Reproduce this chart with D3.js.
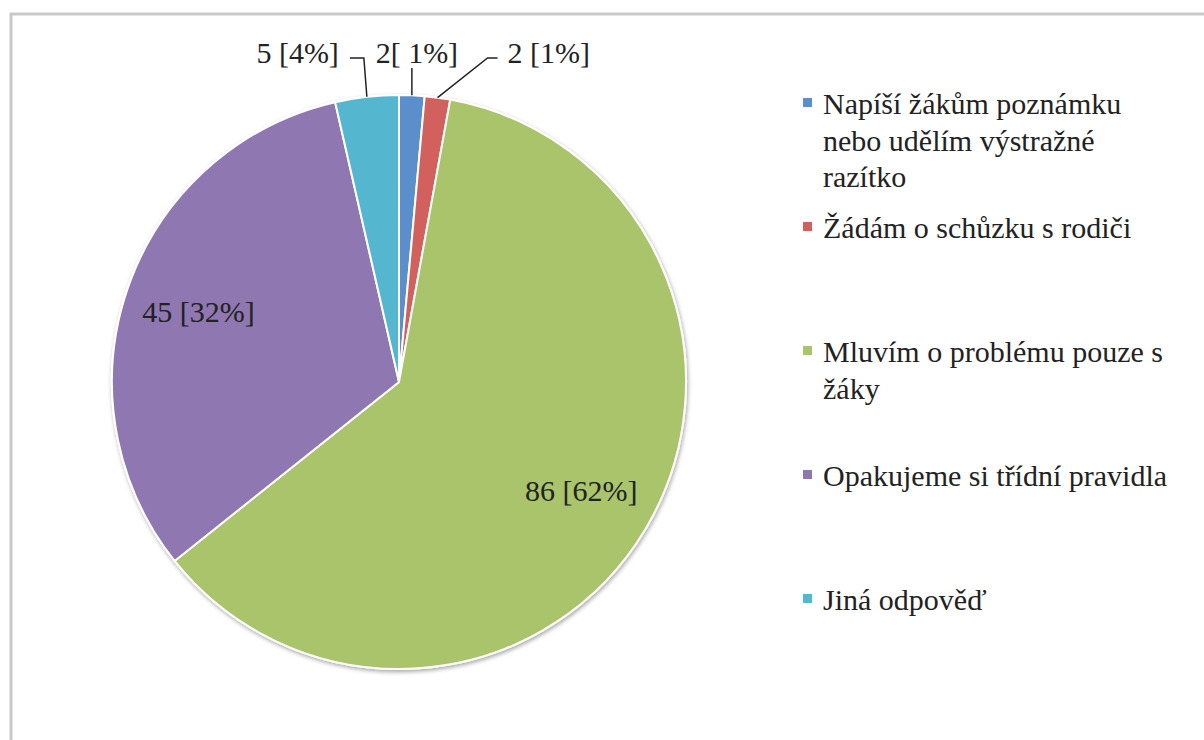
<!DOCTYPE html>
<html>
<head>
<meta charset="utf-8">
<script src="https://cdn.jsdelivr.net/npm/d3@7"></script>
<style>
body { margin: 0; background: #fff; }
</style>
</head>
<body>
<svg id="svg1" width="1204" height="740"></svg>
<script>
var categories = [
    "Napíší žákům poznámku nebo udělím výstražné razítko",
    "Žádám o schůzku s rodiči",
    "Mluvím o problému pouze s žáky",
    "Opakujeme si třídní pravidla",
    "Jiná odpověď"
];
var values = [2, 2, 86, 45, 5];
var valueLabels = ["2[ 1%]", "2 [1%]", "86 [62%]", "45 [32%]", "5 [4%]"];

var svg = d3.select('#svg1')
    .attr('font-family', "'Liberation Serif', Tinos, 'Times New Roman', Times, 'Noto Serif', 'DejaVu Serif', FreeSerif, serif");

var cx = 399, cy = 382, radius = 287;
var fontSize = '30px', textColor = '#222';

var color = d3.scaleOrdinal()
    .domain(categories)
    .range(["#5a8fcb", "#d2615c", "#a9c46b", "#8f77b1", "#55b7cf"]);

// frame around the chart area (clipped by the window on the right / bottom)
svg.append('rect')
    .attr('x', 11).attr('y', 14)
    .attr('width', 1220).attr('height', 760)
    .attr('fill', 'none')
    .attr('stroke', '#c9c9c9')
    .attr('stroke-width', 3);

var defs = svg.append('defs');
var shadow = defs.append('filter').attr('id', 'shadow')
    .attr('x', '-10%').attr('y', '-10%').attr('width', '120%').attr('height', '120%');
shadow.append('feDropShadow')
    .attr('dx', 1).attr('dy', 2)
    .attr('stdDeviation', 2)
    .attr('flood-color', '#000')
    .attr('flood-opacity', 0.35);

var pie = d3.pie().sort(null).value(function(d){ return d; });
var arcs = pie(values);

var arc = d3.arc().innerRadius(0).outerRadius(radius);
var labelArc = d3.arc().innerRadius(radius * 0.74).outerRadius(radius * 0.74);

var g = svg.append('g')
    .attr('transform', 'translate(' + cx + ',' + cy + ')');

g.append('g')
    .attr('filter', 'url(#shadow)')
    .selectAll('path')
    .data(arcs)
    .enter()
    .append('path')
    .attr('d', arc)
    .attr('fill', function(d, i){ return color(categories[i]); })
    .attr('stroke', '#fff')
    .attr('stroke-width', 2);

// labels inside the two big slices
g.selectAll('.inLabel')
    .data(arcs.filter(function(d){ return d.value > 20; }))
    .enter()
    .append('text')
    .attr('class', 'inLabel')
    .attr('x', function(d){ return labelArc.centroid(d)[0]; })
    .attr('y', function(d){ return labelArc.centroid(d)[1]; })
    .attr('text-anchor', 'middle')
    .attr('dy', '0.35em')
    .attr('font-size', fontSize)
    .attr('fill', textColor)
    .text(function(d){ return valueLabels[d.index]; });

// labels above the small slices, with leader lines
var labelY = -radius - 32;   // text baseline
var elbowY = labelY - 5;

var small = arcs.filter(function(d){ return d.value <= 20; });
small.forEach(function(d){
    var mid = (d.startAngle + d.endAngle) / 2;
    var ax = Math.sin(mid) * radius;
    var ay = -Math.cos(mid) * radius;
    var pts, tx, anchor;
    if (ax < -10) {            // left of top: up then left
        pts = [[ax, ay], [ax - 3, elbowY], [ax - 17, elbowY]];
        tx = ax - 28; anchor = 'end';
    } else if (ax < 25) {      // straight up
        pts = [[ax, ay], [ax, elbowY + 10]];
        tx = ax + 5; anchor = 'middle';
    } else {                   // diagonal up-right then right
        pts = [[ax, ay], [ax + 50, elbowY], [ax + 60, elbowY]];
        tx = ax + 70; anchor = 'start';
    }
    g.append('path')
        .attr('d', d3.line()(pts))
        .attr('fill', 'none')
        .attr('stroke', textColor)
        .attr('stroke-width', 1.5);
    g.append('text')
        .attr('x', tx)
        .attr('y', labelY)
        .attr('text-anchor', anchor)
        .attr('font-size', fontSize)
        .attr('fill', textColor)
        .text(valueLabels[d.index]);
});

// legend
var legendX = 803, legendY = 114, legendStep = 124;

var legend = svg.selectAll('.legend')
    .data(categories)
    .enter()
    .append('g')
    .attr('class', 'legend')
    .attr('transform', function(d, i){ return 'translate(' + legendX + ',' + (legendY + i * legendStep) + ')'; });

legend.append('rect')
    .attr('x', 0).attr('y', -16)
    .attr('width', 9).attr('height', 9)
    .attr('fill', function(d){ return color(d); });

legend.append('text')
    .attr('class', 'legendText')
    .attr('x', 20)
    .attr('y', 0)
    .attr('font-size', fontSize)
    .attr('fill', textColor)
    .text(function(d){ return d; });

wrap(d3.selectAll('.legendText'), 345);

function wrap(text, width) {
    text.each(function () {
        var text = d3.select(this),
            words = text.text().split(/\s+/).reverse(),
            word,
            line = [],
            lineNumber = 0,
            lineHeight = 1.22, // ems
            x = text.attr("x"),
            y = text.attr("y"),
            tspan = text.text(null)
                .append("tspan")
                .attr("x", x)
                .attr("y", y)
                .attr("dy", "0em");

        while (word = words.pop()) {
            line.push(word);
            tspan.text(line.join(" "));
            if (tspan.node().getComputedTextLength() > width) {
                line.pop();
                tspan.text(line.join(" "));
                line = [word];
                tspan = text.append("tspan")
                    .attr("x", x)
                    .attr("y", y)
                    .attr("dy", ++lineNumber * lineHeight + "em")
                    .text(word);
            }
        }
    });
}
</script>
</body>
</html>
